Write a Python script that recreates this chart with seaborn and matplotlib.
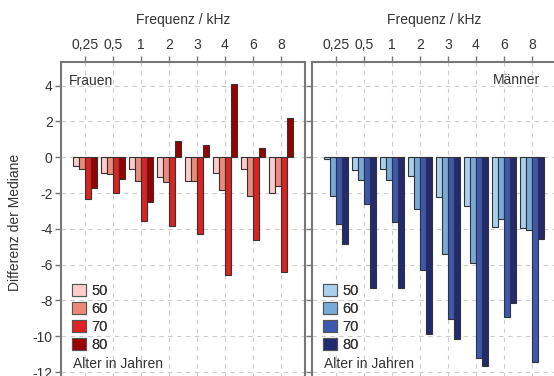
import pandas as pd
import matplotlib.pyplot as plt
import numpy as np
import seaborn as sns
from matplotlib.patches import Patch

sns.set_style('white')
plt.rcParams['font.family'] = ['Liberation Sans', 'DejaVu Sans']
plt.rcParams['axes.unicode_minus'] = False

# Daten
frequenzen = ['0,25', '0,5', '1', '2', '3', '4', '6', '8']
alter = ['50', '60', '70', '80']

frauen_50 = [-0.49, -0.86, -0.67, -1.08, -1.31, -0.90, -0.67, -1.98]
frauen_60 = [-0.67, -0.95, -1.32, -1.40, -1.33, -1.85, -2.16, -1.60]
frauen_70 = [-2.33, -1.98, -3.54, -3.84, -4.28, -6.56, -4.62, -6.43]
frauen_80 = [-1.73, -1.21, -2.51, 0.93, 0.70, 4.10, 0.52, 2.18]

maenner_50 = [-0.11, -0.71, -0.67, -1.03, -2.22, -2.74, -3.88, -3.97]
maenner_60 = [-2.16, -1.27, -1.27, -2.87, -5.42, -5.89, -3.43, -4.08]
maenner_70 = [-3.74, -2.59, -3.60, -6.32, -9.02, -11.23, -8.92, -11.45]
maenner_80 = [-4.82, -7.28, -7.32, -9.89, -10.17, -11.64, -8.16, -4.55]

rot = ['#FFCCCC', '#EE8877', '#DD2222', '#990000']
blau = ['#AAD0EE', '#77AAD6', '#3D58B0', '#222A70']


def long_df(reihen):
    rows = []
    for a, werte in zip(alter, reihen):
        for f, w in zip(frequenzen, werte):
            rows.append({'Frequenz': f, 'Alter': a, 'Diff': w})
    return pd.DataFrame(rows)


df_f = long_df([frauen_50, frauen_60, frauen_70, frauen_80])
df_m = long_df([maenner_50, maenner_60, maenner_70, maenner_80])

fig = plt.figure(figsize=(5.54, 3.76), dpi=100)
ax1 = fig.add_axes([0.1101, -0.018, 0.4404, 0.853])
ax2 = fig.add_axes([0.5632, -0.018, 0.4404, 0.853])

spine_col = '#777777'
text_col = '#333333'

for ax, df, pal, name in [(ax1, df_f, rot, 'Frauen'), (ax2, df_m, blau, 'Männer')]:
    sns.barplot(data=df, x='Frequenz', y='Diff', hue='Alter', order=frequenzen,
                hue_order=alter, palette=pal, saturation=1, width=0.86,
                edgecolor='#333333', linewidth=0.8, legend=False, ax=ax, zorder=3)
    ax.set_xlim(-0.86, 7.86)
    ax.set_ylim(-12.6, 5.32)
    ax.set_yticks(np.arange(-12, 5, 2))
    ax.xaxis.tick_top()
    ax.xaxis.set_label_position('top')
    ax.set_xlabel('Frequenz / kHz', fontsize=10, color=text_col, labelpad=10)
    ax.set_ylabel('')
    ax.grid(True, color='#cccccc', linestyle=(0, (4, 4)), linewidth=0.8, zorder=0)
    ax.set_axisbelow(True)
    ax.tick_params(axis='x', top=True, bottom=False, direction='out', length=4,
                   width=1, color=spine_col, labelsize=10, labelcolor=text_col, pad=3)
    ax.tick_params(axis='y', left=True, direction='out', length=4, width=1,
                   color=spine_col, labelsize=10, labelcolor=text_col, pad=2)
    for s in ax.spines.values():
        s.set_color(spine_col)
        s.set_linewidth(1.5)
    ax.add_artist(ax.legend(handles=[Patch(facecolor=c, edgecolor='#555555', linewidth=0.8) for c in pal],
                            labels=alter, loc='upper left', bbox_to_anchor=(0.045, 0.308),
                            frameon=False, fontsize=10.5, handlelength=0.95, handleheight=0.85,
                            handletextpad=0.4, labelspacing=0.28, borderpad=0, borderaxespad=0,
                            labelcolor=text_col))
    ax.text(0.05, 0.058, 'Alter in Jahren', transform=ax.transAxes, fontsize=10,
            color=text_col, va='center', ha='left')

ax1.text(0.033, 0.94, 'Frauen', transform=ax1.transAxes, fontsize=10,
         color=text_col, va='center', ha='left')
ax2.text(0.934, 0.945, 'Männer', transform=ax2.transAxes, fontsize=10,
         color=text_col, va='center', ha='right')

ax1.set_ylabel('Differenz der Mediane', fontsize=10, color=text_col)
ax1.yaxis.set_label_coords(-0.16, 0.5)
ax2.set_yticklabels([])

fig.savefig('out.png', dpi=100)
